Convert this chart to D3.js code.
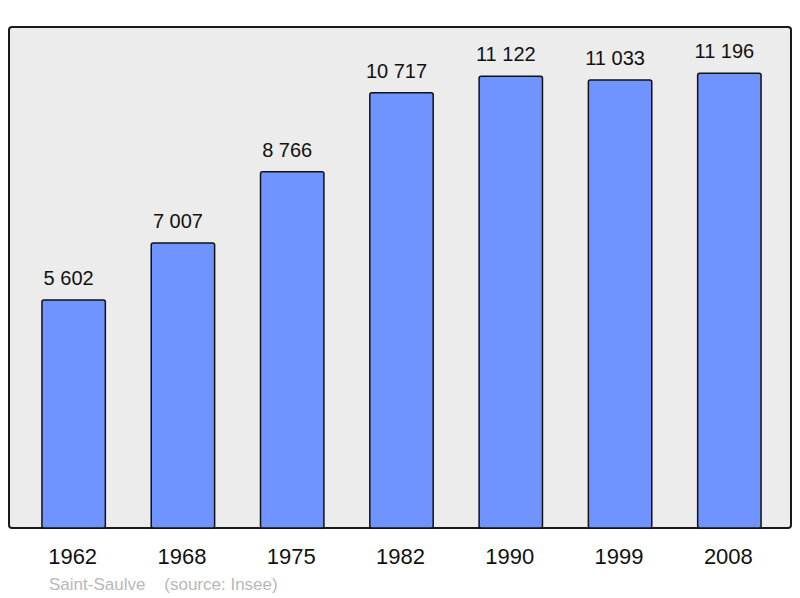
<!DOCTYPE html>
<html><head><meta charset="utf-8">
<script src="https://cdn.jsdelivr.net/npm/d3@7"></script>
<style>body{margin:0;background:#fff}svg{display:block}text{font-family:"Liberation Sans",Arial,sans-serif}</style>
</head><body><svg id="c" width="800" height="598"></svg>
<script>
const years = ["1962","1968","1975","1982","1990","1999","2008"];
const population = [5602,7007,8766,10717,11122,11033,11196];
const place = "Saint-Saulve";
const source = "(source: Insee)";

const svg = d3.select("#c");
const fmt = v => d3.format(",")(v).replace(/,/g," ");
const x = d3.scaleBand().domain(years).range([19,784]).paddingInner(0.42).paddingOuter(0.21);
const y = d3.scaleLinear().domain([0,12340]).range([527,27]);

svg.append("rect").attr("x",9).attr("y",27).attr("width",782).attr("height",501)
  .attr("rx",3).attr("fill","#ececec").attr("stroke","#1a1a1a").attr("stroke-width",2);

svg.selectAll("rect.bar").data(population).join("rect").attr("class","bar")
  .attr("x",(d,i)=>x(years[i])).attr("width",x.bandwidth())
  .attr("y",d=>y(d)).attr("height",d=>y(0)-y(d)+1)
  .attr("rx",2).attr("fill","#7094ff").attr("stroke","#111").attr("stroke-width",1.5);

svg.selectAll("text.val").data(population).join("text").attr("class","val")
  .attr("x",(d,i)=>x(years[i])+x.bandwidth()/2-5).attr("y",d=>y(d)-15)
  .attr("text-anchor","middle").attr("font-size",20).attr("fill","#111").text(fmt);

svg.selectAll("text.yr").data(years).join("text").attr("class","yr")
  .attr("x",d=>x(d)+x.bandwidth()/2-1).attr("y",564)
  .attr("text-anchor","middle").attr("font-size",22).attr("fill","#111").text(d=>d);

svg.append("text").attr("x",49).attr("y",590).attr("font-size",17).attr("fill","#b8b8b8")
  .attr("xml:space","preserve").text(place+"    "+source);
</script></body></html>
